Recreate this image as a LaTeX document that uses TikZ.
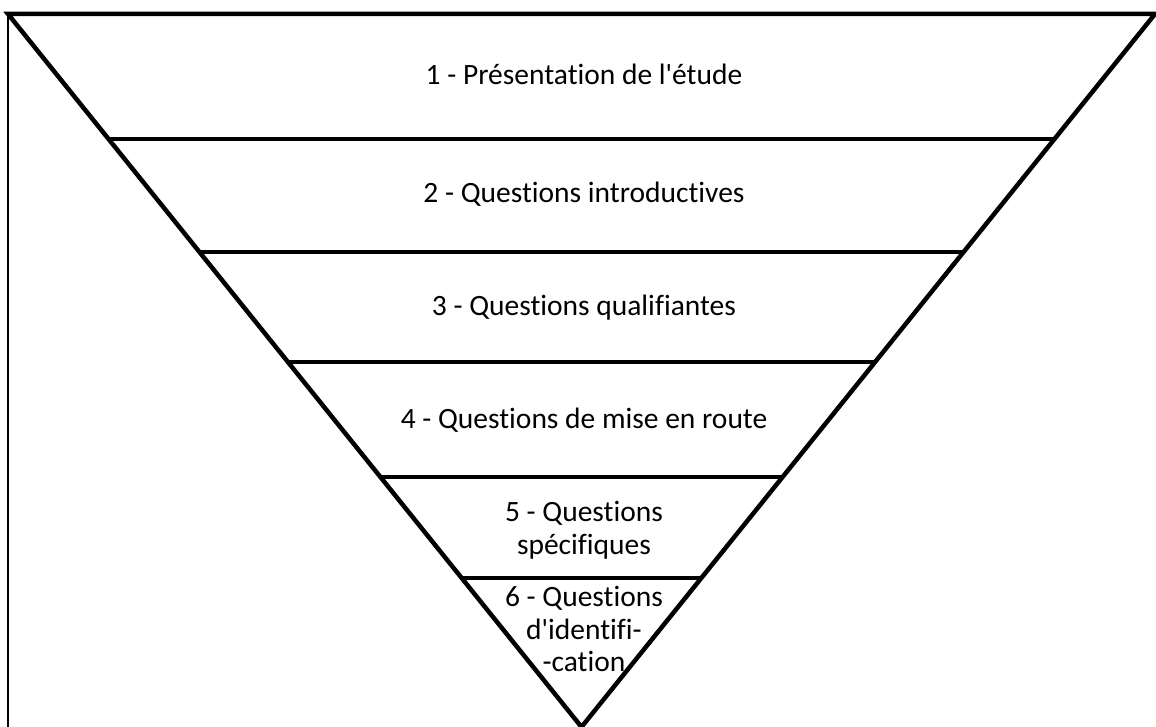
\documentclass[tikz,border=0pt]{standalone}
\usepackage{fontspec}
\setmainfont[Ligatures=NoCommon]{Carlito}
\usetikzlibrary{calc}
\begin{document}
\begin{tikzpicture}[x=1pt,y=-1pt,
    edge/.style={line width=4.5pt},
    frame/.style={line width=1.3pt},
    stagetext/.style={font=\fontsize{29.5}{32.5}\selectfont, align=center, inner sep=0pt}]
    \useasboundingbox (0,0) rectangle (1156,727);

    \coordinate (topLeft) at (8,14);
    \coordinate (topRight) at (1155,14);
    \coordinate (apex) at (581.5,727);
    \coordinate (frameBottom) at (8,727);

    \draw[frame] (frameBottom) -- (topLeft);
    \draw[edge] (apex) -- (topLeft) -- (topRight) -- cycle;

    \foreach \t [count=\i] in {0.1753,0.3338,0.4881,0.6494,0.7910}
    {
        \coordinate (left\i) at ($(topLeft)!\t!(apex)$);
        \coordinate (right\i) at ($(topRight)!\t!(apex)$);
        \draw[edge] (left\i) -- (right\i);
    }

    \node[stagetext, anchor=base] (presentation) at (584,85) {1 - Présentation de l\textquotesingle étude};
    \node[stagetext, anchor=base] (introductives) at (584,203) {2 - Questions introductives};
    \node[stagetext, anchor=base] (qualifiantes) at (584,315) {3 - Questions qualifiantes};
    \node[stagetext, anchor=base] (miseEnRoute) at (584,428) {4 - Questions de mise en route};
    \node[stagetext] (specifiques) at (584,530) {5 - Questions\\spécifiques};
    \node[stagetext] (identification) at (584,629) {6 - Questions\\d\textquotesingle identifi-\\-cation};
\end{tikzpicture}
\end{document}
